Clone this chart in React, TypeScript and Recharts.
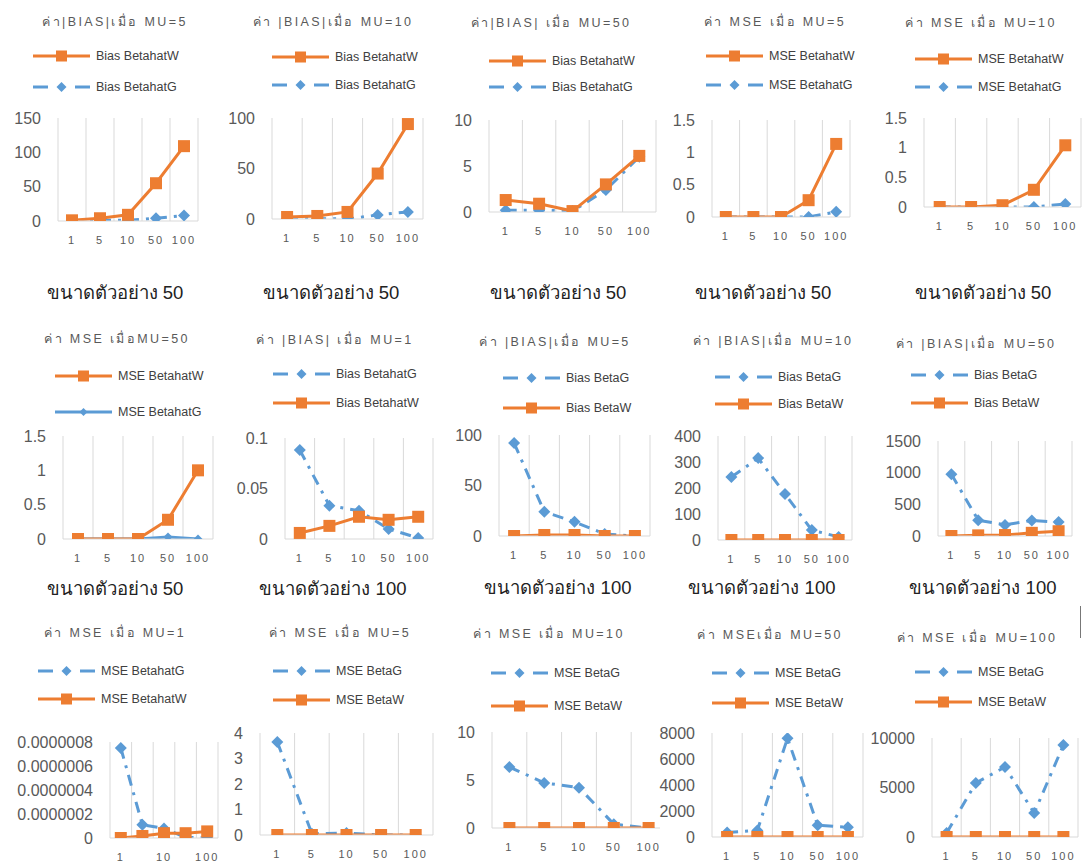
import React from 'react';
import { LineChart, Line, XAxis, YAxis, CartesianGrid } from 'recharts';

const ORANGE = '#ED7D31';
const BLUE = '#5B9BD5';
const GRID = '#d9d9d9';
const AXIS_TEXT = '#595959';
const FONT = "'Liberation Sans', 'DejaVu Sans', sans-serif";

const sampleSizes = ['1', '5', '10', '50', '100'];

// sample size 50
const biasW_mu5_n50 = [1, 4, 9, 55, 109];
const biasG_mu5_n50 = [0, 1, 1, 4, 8];
const biasW_mu10_n50 = [2, 3, 7, 45, 94];
const biasG_mu10_n50 = [0.5, 0.5, 0, 4, 7];
const biasW_mu50_n50 = [1.3, 0.9, 0.1, 3.0, 6.1];
const biasG_mu50_n50 = [0.2, 0.2, 0.1, 2.4, 6.0];
const mseW_mu5_n50 = [0, 0, 0, 0.26, 1.13];
const mseG_mu5_n50 = [0, 0, 0, 0, 0.08];
const mseW_mu10_n50 = [0, 0, 0.03, 0.29, 1.04];
const mseG_mu10_n50 = [0, 0, 0, 0, 0.05];
const mseW_mu50_n50 = [0, 0, 0, 0.28, 1.0];
const mseG_mu50_n50 = [0, 0, 0, 0.03, 0];

// sample size 100
const biasG_mu1_n100 = [0.088, 0.033, 0.028, 0.01, 0.001];
const biasW_mu1_n100 = [0.006, 0.013, 0.022, 0.019, 0.022];
const biasG_mu5_n100 = [92, 24, 14, 2, 0];
const biasW_mu5_n100 = [0, 1, 1, 0, 0];
const biasG_mu10_n100 = [242, 315, 177, 38, 12];
const biasW_mu10_n100 = [0, 0, 0, 0, 0];
const biasG_mu50_n100 = [975, 250, 175, 245, 220];
const biasW_mu50_n100 = [0, 10, 15, 50, 75];
const mseG_mu1_n100 = [0.00000075, 0.00000011, 0.00000008, 0.000000005, 0];
const mseW_mu1_n100 = [0, 0.000000017, 0.00000004, 0.00000004, 0.000000055];
const mseG_mu5_n100 = [3.65, 0.05, 0.08, 0, 0];
const mseW_mu5_n100 = [0, 0, 0, 0, 0];
const mseG_mu10_n100 = [6.35, 4.7, 4.2, 0.4, 0];
const mseW_mu10_n100 = [0, 0, 0, 0, 0];
const mseG_mu50_n100 = [350, 500, 7600, 900, 750];
const mseW_mu50_n100 = [0, 0, 0, 0, 0];
const mseG_mu100_n100 = [400, 5450, 7070, 2420, 9290];
const mseW_mu100_n100 = [0, 0, 0, 0, 0];

type Style = 'square' | 'dashDiamond' | 'solidDiamond';
type Series = { name: string; values: number[]; style: Style };
type Panel = {
  title: string;
  caption?: string;
  pl: number; pr: number; pt: number; pb: number;
  ticks: number[];
  yw?: number;
  fmt?: (v: number) => string;
  interval?: number;
  clip?: number;
  titleX: number; titleY: number;
  legendX: number; legendRows: [number, number];
  captionX?: number; captionY?: number;
  series: Series[];
};

const W = (name: string, values: number[]): Series => ({ name, values, style: 'square' });
const G = (name: string, values: number[]): Series => ({ name, values, style: 'dashDiamond' });

const panels: Panel[] = [
  {
    title: 'ค่า|BIAS|เมื่อ MU=5', caption: 'ขนาดตัวอย่าง 50',
    pl: 58, pr: 198, pt: 118, pb: 221, ticks: [0, 50, 100, 150],
    titleX: 115, titleY: 22, legendX: 33, legendRows: [56, 87], captionX: 115, captionY: 293,
    series: [W('Bias BetahatW', biasW_mu5_n50), G('Bias BetahatG', biasG_mu5_n50)],
  },
  {
    title: 'ค่า |BIAS|เมื่อ MU=10', caption: 'ขนาดตัวอย่าง 50',
    pl: 272, pr: 423, pt: 118, pb: 219, ticks: [0, 50, 100],
    titleX: 333, titleY: 22, legendX: 272, legendRows: [57, 85], captionX: 331, captionY: 293,
    series: [W('Bias BetahatW', biasW_mu10_n50), G('Bias BetahatG', biasG_mu10_n50)],
  },
  {
    title: 'ค่า|BIAS| เมื่อ MU=50', caption: 'ขนาดตัวอย่าง 50',
    pl: 489, pr: 656, pt: 120, pb: 212, ticks: [0, 5, 10],
    titleX: 551, titleY: 23, legendX: 489, legendRows: [61, 87], captionX: 558, captionY: 293,
    series: [W('Bias BetahatW', biasW_mu50_n50), G('Bias BetahatG', biasG_mu50_n50)],
  },
  {
    title: 'ค่า MSE เมื่อ MU=5', caption: 'ขนาดตัวอย่าง 50',
    pl: 712, pr: 850, pt: 120, pb: 217, ticks: [0, 0.5, 1, 1.5],
    titleX: 775, titleY: 22, legendX: 706, legendRows: [56, 85], captionX: 763, captionY: 293,
    series: [W('MSE BetahatW', mseW_mu5_n50), G('MSE BetahatG', mseG_mu5_n50)],
  },
  {
    title: 'ค่า MSE เมื่อ MU=10', caption: 'ขนาดตัวอย่าง 50',
    pl: 924, pr: 1081, pt: 118, pb: 207, ticks: [0, 0.5, 1, 1.5],
    titleX: 981, titleY: 23, legendX: 915, legendRows: [59, 87], captionX: 983, captionY: 293,
    series: [W('MSE BetahatW', mseW_mu10_n50), G('MSE BetahatG', mseG_mu10_n50)],
  },
  {
    title: 'ค่า MSE เมื่อMU=50', caption: 'ขนาดตัวอย่าง 50',
    pl: 63, pr: 213, pt: 436, pb: 539, ticks: [0, 0.5, 1, 1.5],
    titleX: 117, titleY: 339, legendX: 55, legendRows: [376, 412], captionX: 115, captionY: 589,
    series: [W('MSE BetahatW', mseW_mu50_n50), { name: 'MSE BetahatG', values: mseG_mu50_n50, style: 'solidDiamond' }],
  },
  {
    title: 'ค่า |BIAS| เมื่อ MU=1', caption: 'ขนาดตัวอย่าง 100',
    pl: 285, pr: 433, pt: 438, pb: 539, ticks: [0, 0.05, 0.1],
    titleX: 335, titleY: 340, legendX: 273, legendRows: [374, 403], captionX: 333, captionY: 589,
    series: [G('Bias BetahatG', biasG_mu1_n100), W('Bias BetahatW', biasW_mu1_n100)],
  },
  {
    title: 'ค่า |BIAS|เมื่อ MU=5', caption: 'ขนาดตัวอย่าง 100',
    pl: 499, pr: 650, pt: 435, pb: 536, ticks: [0, 50, 100],
    titleX: 555, titleY: 342, legendX: 503, legendRows: [378, 408], captionX: 558, captionY: 588,
    series: [G('Bias BetaG', biasG_mu5_n100), W('Bias BetaW', biasW_mu5_n100)],
  },
  {
    title: 'ค่า |BIAS|เมื่อ MU=10', caption: 'ขนาดตัวอย่าง 100',
    pl: 718, pr: 852, pt: 436, pb: 540, ticks: [0, 100, 200, 300, 400],
    titleX: 773, titleY: 341, legendX: 715, legendRows: [377, 404], captionX: 762, captionY: 588,
    series: [G('Bias BetaG', biasG_mu10_n100), W('Bias BetaW', biasW_mu10_n100)],
  },
  {
    title: 'ค่า |BIAS|เมื่อ MU=50', caption: 'ขนาดตัวอย่าง 100',
    pl: 938, pr: 1072, pt: 441, pb: 536, ticks: [0, 500, 1000, 1500],
    titleX: 976, titleY: 344, legendX: 911, legendRows: [375, 403], captionX: 983, captionY: 588,
    series: [G('Bias BetaG', biasG_mu50_n100), W('Bias BetaW', biasW_mu50_n100)],
  },
  {
    title: 'ค่า MSE เมื่อ MU=1',
    pl: 110, pr: 218, pt: 742, pb: 838, ticks: [0, 0.0000002, 0.0000004, 0.0000006, 0.0000008],
    yw: 110, fmt: (v) => (v === 0 ? '0' : v.toFixed(7)), interval: 1,
    titleX: 115, titleY: 633, legendX: 38, legendRows: [671, 699],
    series: [G('MSE BetahatG', mseG_mu1_n100), W('MSE BetahatW', mseW_mu1_n100)],
  },
  {
    title: 'ค่า MSE เมื่อ MU=5',
    pl: 260, pr: 433, pt: 733, pb: 835, ticks: [0, 1, 2, 3, 4],
    titleX: 340, titleY: 633, legendX: 273, legendRows: [671, 700],
    series: [G('MSE BetaG', mseG_mu5_n100), W('MSE BetaW', mseW_mu5_n100)],
  },
  {
    title: 'ค่า MSE เมื่อ MU=10',
    pl: 492, pr: 666, pt: 732, pb: 828, ticks: [0, 5, 10], clip: 660,
    titleX: 549, titleY: 634, legendX: 491, legendRows: [673, 706],
    series: [G('MSE BetaG', mseG_mu10_n100), W('MSE BetaW', mseW_mu10_n100)],
  },
  {
    title: 'ค่า MSEเมื่อ MU=50',
    pl: 712, pr: 863, pt: 733, pb: 837, ticks: [0, 2000, 4000, 6000, 8000],
    titleX: 770, titleY: 635, legendX: 712, legendRows: [673, 703],
    series: [G('MSE BetaG', mseG_mu50_n100), W('MSE BetaW', mseW_mu50_n100)],
  },
  {
    title: 'ค่า MSE เมื่อ MU=100',
    pl: 932, pr: 1078, pt: 738, pb: 837, ticks: [0, 5000, 10000],
    titleX: 977, titleY: 638, legendX: 915, legendRows: [672, 702],
    series: [G('MSE BetaG', mseG_mu100_n100), W('MSE BetaW', mseW_mu100_n100)],
  },
];

const squareDot = (size: number) => (props: any) => (
  <rect key={props.index} x={props.cx - size / 2} y={props.cy - size / 2} width={size} height={size} fill={ORANGE} />
);

const diamondDot = (r: number) => (props: any) => (
  <polygon
    key={props.index}
    points={`${props.cx},${props.cy - r} ${props.cx + r},${props.cy} ${props.cx},${props.cy + r} ${props.cx - r},${props.cy}`}
    fill={BLUE}
  />
);

function LegendSample({ style }: { style: Style }) {
  if (style === 'square') {
    return (
      <svg width={57} height={14}>
        <line x1={0} y1={7} x2={57} y2={7} stroke={ORANGE} strokeWidth={3} />
        <rect x={23} y={1.5} width={11} height={11} fill={ORANGE} />
      </svg>
    );
  }
  if (style === 'solidDiamond') {
    return (
      <svg width={57} height={14}>
        <line x1={0} y1={7} x2={57} y2={7} stroke={BLUE} strokeWidth={3} />
        <polygon points="28.5,3 32.5,7 28.5,11 24.5,7" fill={BLUE} />
      </svg>
    );
  }
  return (
    <svg width={57} height={14}>
      <line x1={0} y1={7} x2={15} y2={7} stroke={BLUE} strokeWidth={3} />
      <line x1={42} y1={7} x2={57} y2={7} stroke={BLUE} strokeWidth={3} />
      <polygon points="28.5,2 33.5,7 28.5,12 23.5,7" fill={BLUE} />
    </svg>
  );
}

function SmallChart({ p }: { p: Panel }) {
  const yw = p.yw ?? 70;
  const left = p.pl - yw;
  const top = p.pt - 10;
  const width = p.pr - p.pl + yw + 4;
  const height = p.pb - p.pt + 10 + 30;
  const band = (p.pr - p.pl) / 5;
  const rows = sampleSizes.map((s, i) => {
    const row: Record<string, string | number> = { size: s };
    p.series.forEach((se, k) => (row['s' + k] = se.values[i]));
    return row;
  });
  const max = p.ticks[p.ticks.length - 1];
  // blue series go underneath the orange ones
  const order = p.series.map((se, k) => ({ se, k })).sort((a, b) => (a.se.style === 'square' ? 1 : 0) - (b.se.style === 'square' ? 1 : 0));

  return (
    <>
      <div
        style={{
          position: 'absolute', left: p.titleX - 150, top: p.titleY - 9, width: 300, textAlign: 'center',
          fontSize: 12.5, lineHeight: '18px', letterSpacing: 2.4, color: AXIS_TEXT, fontFamily: FONT, whiteSpace: 'nowrap',
        }}
      >
        {p.title}
      </div>
      {p.series.map((se, k) => (
        <div
          key={se.name}
          style={{
            position: 'absolute', left: p.legendX, top: p.legendRows[k] - 8, height: 16,
            display: 'flex', alignItems: 'center', gap: 6, fontSize: 12.5, color: '#404040', fontFamily: FONT, whiteSpace: 'nowrap',
          }}
        >
          <LegendSample style={se.style} />
          <span>{se.name}</span>
        </div>
      ))}
      {p.caption && (
        <div
          style={{
            position: 'absolute', left: (p.captionX ?? 0) - 150, top: (p.captionY ?? 0) - 13, width: 300, textAlign: 'center',
            fontSize: 18.5, lineHeight: '26px', color: '#222', fontFamily: FONT, whiteSpace: 'nowrap',
          }}
        >
          {p.caption}
        </div>
      )}
      <div style={{ position: 'absolute', left, top, width: p.clip ? p.clip - left : width, height, overflow: 'hidden' }}>
        <LineChart width={width} height={height} data={rows} margin={{ top: 10, right: 4, left: 0, bottom: 0 }}>
          <CartesianGrid
            horizontal={false}
            stroke={GRID}
            verticalCoordinatesGenerator={({ offset }: any) =>
              [0, 1, 2, 3, 4, 5].map((i) => offset.left + (i * (width - offset.left - offset.right)) / 5)
            }
          />
          <XAxis
            dataKey="size"
            padding={{ left: band / 2, right: band / 2 }}
            axisLine={{ stroke: GRID }}
            tickLine={false}
            height={30}
            interval={p.interval ?? 0}
            tickMargin={9}
            tick={{ fontSize: 11, fill: AXIS_TEXT, fontFamily: FONT, letterSpacing: 2 }}
          />
          <YAxis
            width={yw}
            domain={[0, max]}
            ticks={p.ticks}
            axisLine={false}
            tickLine={false}
            tickMargin={11}
            tickFormatter={p.fmt}
            tick={{ fontSize: 16, fill: AXIS_TEXT, fontFamily: FONT }}
            allowDataOverflow
          />
          {order.map(({ se, k }) =>
            se.style === 'square' ? (
              <Line key={k} dataKey={'s' + k} name={se.name} stroke={ORANGE} strokeWidth={3}
                dot={squareDot(12)} activeDot={false} isAnimationActive={false} />
            ) : se.style === 'solidDiamond' ? (
              <Line key={k} dataKey={'s' + k} name={se.name} stroke={BLUE} strokeWidth={3}
                dot={diamondDot(4.5)} activeDot={false} isAnimationActive={false} />
            ) : (
              <Line key={k} dataKey={'s' + k} name={se.name} stroke={BLUE} strokeWidth={3} strokeDasharray="11 7 3 7"
                dot={diamondDot(6)} activeDot={false} isAnimationActive={false} />
            )
          )}
        </LineChart>
      </div>
    </>
  );
}

export default function App() {
  return (
    <div style={{ position: 'absolute', left: 0, top: 0, width: 1086, height: 863, background: '#fff', overflow: 'hidden' }}>
      {panels.map((p, i) => (
        <SmallChart key={i} p={p} />
      ))}
      <div style={{ position: 'absolute', left: 1080, top: 606, width: 1, height: 32, background: '#777' }} />
    </div>
  );
}
